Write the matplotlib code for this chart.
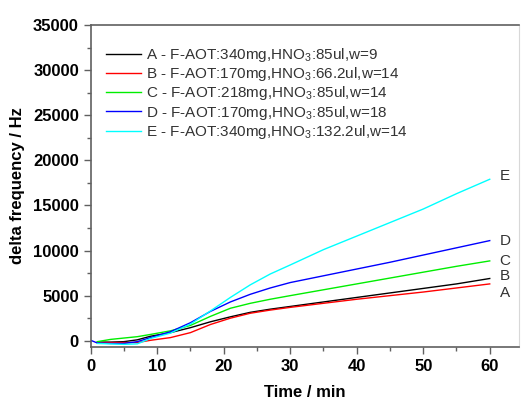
import matplotlib
matplotlib.use("Agg")
import matplotlib.pyplot as plt
from matplotlib.ticker import MultipleLocator

plt.rcParams['font.family'] = ['Liberation Sans', 'DejaVu Sans']

# ---- data (time in min, delta frequency in Hz) ----
t_A = [1, 3, 5, 7, 9, 12, 15, 18, 21, 24, 27, 30, 35, 40, 45, 50, 55, 60]
y_A = [-150, -150, -100, 100, 500, 900, 1450, 2100, 2650, 3150, 3500, 3800,
       4300, 4800, 5300, 5800, 6300, 6900]

t_B = [1, 3, 5, 7, 9, 12, 15, 18, 21, 24, 27, 30, 35, 40, 45, 50, 55, 60]
y_B = [-200, -200, -200, -200, 50, 350, 900, 1800, 2500, 3050, 3400, 3700,
       4150, 4600, 5000, 5400, 5850, 6300]

t_C = [1, 3, 5, 7, 9, 12, 15, 18, 21, 24, 27, 30, 35, 40, 45, 50, 55, 60]
y_C = [-100, 150, 300, 450, 700, 1100, 1700, 2700, 3600, 4150, 4600, 5000,
       5650, 6300, 6950, 7600, 8250, 8850]

t_D = [0, 1, 3, 5, 7, 9, 12, 15, 18, 21, 24, 27, 30, 35, 40, 45, 50, 55, 60]
y_D = [50, -250, -300, -300, -100, 350, 1000, 2000, 3250, 4300, 5150, 5850,
       6450, 7200, 7950, 8700, 9500, 10300, 11100]

t_E = [1, 3, 5, 7, 9, 12, 15, 18, 21, 24, 27, 30, 35, 40, 45, 50, 55, 60]
y_E = [-300, -350, -400, -350, 250, 850, 1850, 3300, 4800, 6200, 7400, 8400,
       10100, 11600, 13100, 14600, 16300, 17900]

legend_labels = [
    r"A - F-AOT:340mg,HNO$_{\mathregular{3}}$:85ul,w=9",
    r"B - F-AOT:170mg,HNO$_{\mathregular{3}}$:66.2ul,w=14",
    r"C - F-AOT:218mg,HNO$_{\mathregular{3}}$:85ul,w=14",
    r"D - F-AOT:170mg,HNO$_{\mathregular{3}}$:85ul,w=18",
    r"E - F-AOT:340mg,HNO$_{\mathregular{3}}$:132.2ul,w=14",
]
colors = ["#000000", "#ff0000", "#00ee00", "#0000ff", "#00ffff"]

# end-of-curve labels as printed in the original (B beside black, A beside red)
end_labels = ["B", "A", "C", "D", "E"]

fig = plt.figure(figsize=(5.21, 4.0), dpi=100)
ax = fig.add_axes([90.7 / 521, 1 - 346.7 / 400, (519 - 90.7) / 521, (346.7 - 25) / 400])

series = [(t_A, y_A), (t_B, y_B), (t_C, y_C), (t_D, y_D), (t_E, y_E)]
for (t, y), c, lab in zip(series, colors, legend_labels):
    ax.plot(t, y, color=c, lw=1.0, label=lab)

label_offsets = {"B": 250, "A": -1000, "C": 0, "D": 0, "E": 400}
for (t, y), lab in zip(series, end_labels):
    ax.text(t[-1] + 1.5, y[-1] + label_offsets[lab], lab, fontsize=11,
            color="#333333", va="center", ha="left")

ax.set_xlim(0, 64.4)
ax.set_ylim(-660, 35000)
ax.xaxis.set_major_locator(MultipleLocator(10))
ax.xaxis.set_minor_locator(MultipleLocator(5))
ax.yaxis.set_major_locator(MultipleLocator(5000))
ax.yaxis.set_minor_locator(MultipleLocator(2500))

spine_c = "#606060"
for s in ax.spines.values():
    s.set_color(spine_c)
    s.set_linewidth(1.2)
ax.spines['right'].set_color("#d8d8d8")
ax.spines['right'].set_linewidth(0.8)

ax.tick_params(which='major', direction='out', length=5, width=1, color=spine_c,
               labelsize=12, top=False, right=False)
ax.tick_params(which='minor', direction='out', length=3, width=1, color=spine_c,
               top=False, right=False)
for lbl in ax.get_xticklabels() + ax.get_yticklabels():
    lbl.set_fontweight('bold')

ax.set_xlabel("Time / min", fontsize=12, fontweight='bold', labelpad=8)
ax.set_ylabel("delta frequency / Hz", fontsize=12, fontweight='bold', labelpad=6)

leg = ax.legend(loc='upper left', bbox_to_anchor=(106 / 521, 1 - 46 / 400),
                bbox_transform=fig.transFigure, frameon=False, fontsize=11,
                handlelength=2.3, handletextpad=0.35, labelspacing=0.08,
                borderpad=0, borderaxespad=0)
for txt in leg.get_texts():
    txt.set_color("#333333")

fig.savefig("out.png", dpi=100)
